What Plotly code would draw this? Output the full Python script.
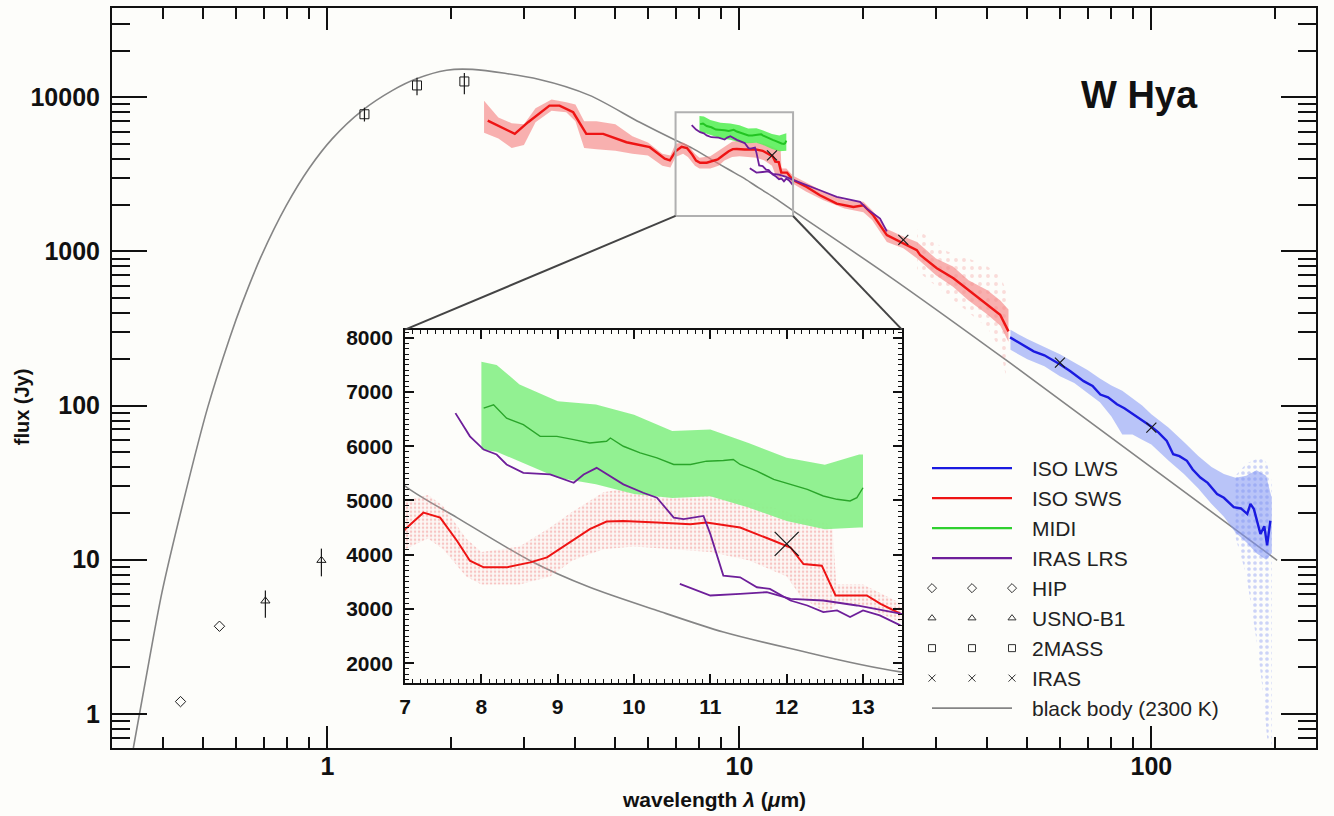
import math
import plotly.graph_objects as go

# ---------------- data ----------------
# black body (2300 K) curve, read points
BB_LAM = [0.338, 0.369, 0.397, 0.449, 0.512, 0.58, 0.621, 0.69, 0.795, 0.904, 1.028, 1.21, 1.439,
          1.645, 1.946, 2.25, 3.27, 4.33, 5.73, 7.0, 7.68, 8.64, 9.42, 10.30, 11.17, 12.05, 13.49,
          22.8, 45.4, 202]
BB_F = [0.60, 2.2, 6.2, 25, 97, 278, 462, 925, 1990, 3480, 5400, 8150, 11100,
        13200, 15000, 15180, 13060, 10300, 6890, 5266, 4685, 3890, 3400, 2972, 2574, 2270, 1840,
        708, 189, 9.9]

# ISO SWS (mean spectrum)
SWS_LAM = [2.45, 2.85, 3.07, 3.46, 3.66, 3.95, 4.25, 4.67, 5.32, 6.06, 6.59, 6.78,
           7.0, 7.24, 7.46, 7.68, 7.85, 8.03, 8.33, 8.64, 8.86, 9.12, 9.42, 9.64, 9.86,
           10.30, 10.74, 10.95, 11.39, 11.83, 12.05, 12.22, 12.46, 12.64, 13.05, 13.23, 13.49,
           14.57, 15.69, 17.23, 18.91, 20.0, 21.13, 22.8, 24.55, 26.96, 27.46, 30.15, 33.08,
           36.31, 39.86, 42.95, 45.0]
SWS_F = [7070, 5795, 6900, 8840, 8840, 8000, 5795, 5795, 5115, 4750, 3995, 3900,
         4471, 4776, 4685, 4257, 3890, 3767, 3767, 3859, 3950, 4196, 4471, 4611, 4624,
         4593, 4563, 4593, 4501, 4257, 4134, 3829, 3798, 3248, 3248, 3095, 2912,
         2620, 2316, 2044, 1946, 1995, 1719, 1277, 1156, 1021, 948, 778, 670,
         549, 451, 388, 303]
# ISO SWS spread of individual points (dense part)
SWSB_LAM = [2.40, 2.6, 2.8, 3.0, 3.2, 3.5, 3.8, 4.0, 4.2, 4.5, 5.0, 5.5, 6.0, 6.5, 6.8,
            7.0, 7.3, 7.5, 7.8, 8.0, 8.5, 8.9, 9.2, 9.6, 10.0, 10.5, 11.0, 11.5, 12.0, 12.2,
            12.5, 12.6, 12.65, 13.0, 13.5, 14.5, 16, 18, 20, 21, 22.8, 25, 27, 30, 33, 36,
            40, 43, 45]
SWSB_LO = [5900, 5400, 4700, 4900, 6900, 8200, 8000, 7000, 4700, 4600, 4500, 4300, 4200, 3600, 3500,
           4100, 4300, 4100, 3600, 3450, 3450, 3600, 3900, 4100, 4150, 4100, 4050, 3900, 3600, 3200,
           2950, 3000, 3100, 3050, 2750, 2450, 2150, 1900, 1800, 1600, 1150, 1050, 900, 700, 590, 480,
           390, 330, 260]
SWSB_HI = [9500, 7400, 6800, 6700, 8500, 9700, 9300, 9000, 7000, 7000, 6700, 5600, 5100, 4300, 4200,
           5000, 5100, 4900, 4300, 4050, 4150, 4500, 4800, 5150, 5250, 5100, 5100, 5000, 4800, 4700,
           4600, 4500, 3450, 3450, 3100, 2800, 2450, 2150, 2100, 1850, 1400, 1250, 1150, 900, 800, 650,
           560, 480, 420]
# ISO SWS sparse outliers
SWSS_LAM = [27, 32, 36, 40, 43, 45]
SWSS_LO = [750, 520, 400, 320, 230, 130]
SWSS_HI = [1400, 1000, 900, 800, 700, 500]

# ISO LWS
LWS_LAM = [45.4, 48.5, 51.8, 55.0, 60.1, 63.6, 68.5, 72.0, 75.2, 78.5, 82.5, 86.0, 90.6, 95.0,
           99.5, 104, 109, 113, 117, 122, 126, 131.5, 137, 144.4, 150, 158.5, 165, 170.9, 174,
           177.4, 181, 184, 188, 191, 194.5]
LWS_F = [277, 250, 225, 212, 185, 167, 144, 134, 118, 113, 102, 96, 87.7, 80,
         73.8, 67, 59, 48.4, 47, 43.8, 38.5, 34.1, 31.5, 26.7, 25.2, 21.9, 21.5, 19.8, 23,
         21.3, 17.5, 14.7, 16.5, 12.4, 17.9]
LWSB_LAM = [45.5, 50, 55, 60, 65, 70, 75, 80, 85, 90, 95, 100, 110, 120, 130, 140, 150, 160,
            170, 180, 190, 196]
LWSB_LO = [230, 200, 180, 155, 140, 120, 105, 85, 65, 65, 60, 56, 44, 36, 29, 23, 19, 15,
           13, 11, 10, 11]
LWSB_HI = [310, 270, 240, 215, 190, 170, 150, 135, 125, 112, 100, 88, 72, 58, 47, 40, 36, 34,
           35, 38, 35, 25]
LWSS_LAM = [160, 170, 180, 186, 191, 196]
LWSS_LO = [14, 8, 3, 1.5, 0.7, 0.6]
LWSS_HI = [35, 42, 45, 46, 42, 32]

# MIDI
MIDI_LAM = [8.03, 8.16, 8.33, 8.55, 8.77, 8.99, 9.21, 9.42, 9.64, 9.69, 9.86, 10.08, 10.30,
            10.52, 10.74, 10.95, 11.17, 11.30, 11.39, 11.61, 11.83, 12.05, 12.27, 12.48,
            12.66, 12.83, 12.92, 13.0]
MIDI_F = [6703, 6765, 6519, 6398, 6183, 6183, 6123, 6061, 6092, 6152, 6000, 5877, 5785,
          5664, 5664, 5725, 5737, 5756, 5664, 5541, 5389, 5297, 5205, 5083,
          5022, 4991, 5052, 5235]
MIDIB_LAM = [8.0, 8.2, 8.5, 9.0, 9.5, 10.0, 10.5, 11.0, 11.5, 12.0, 12.5, 12.95, 13.0]
MIDIB_LO = [5940, 5900, 5725, 5420, 5300, 5120, 5045, 5080, 4870, 4620, 4470, 4500, 4500]
MIDIB_HI = [7560, 7500, 7140, 6830, 6770, 6580, 6280, 6310, 6060, 5790, 5660, 5850, 5850]

# IRAS LRS (blue and red part)
LRS1_LAM = [7.66, 7.85, 8.03, 8.20, 8.33, 8.55, 8.90, 9.21, 9.34, 9.51, 9.86, 10.12, 10.30,
            10.52, 10.65, 10.91, 11.0, 11.17, 11.39, 11.61, 11.78, 12.05, 12.27, 12.48, 12.66,
            12.83, 13.0, 13.22, 13.49]
LRS1_F = [6611, 6183, 5939, 5848, 5664, 5511, 5480, 5327, 5480, 5602, 5297, 5143, 5052,
          4685, 4655, 4716, 4380, 3615, 3584, 3400, 3370, 3156, 3064, 2941, 2972,
          2850, 2972, 2881, 2697]
LRS2_LAM = [10.60, 11.0, 11.39, 11.74, 12.05, 12.48, 12.92, 13.49, 15.69, 17.23, 19.63,
            20.38, 21.95, 22.8]
LRS2_F = [3462, 3248, 3279, 3309, 3187, 3156, 3064, 2912, 2496, 2260, 2096,
          1897, 1636, 1349]

# photometry
HIP_LAM = [0.44, 0.547]
HIP_F = [1.2, 3.7]
USNO_LAM = [0.707, 0.967]
USNO_F = [5.4, 9.9]
USNO_EP = [0.9, 1.9]
USNO_EM = [1.2, 2.1]
TWOMASS_LAM = [1.23, 1.65, 2.15]
TWOMASS_F = [7770, 11950, 12680]
TWOMASS_EP = [800, 1450, 1700]
TWOMASS_EM = [800, 1650, 2200]
IRAS_LAM = [12, 25, 60, 100]
IRAS_F = [4200, 1190, 190, 72]

LEG_LABELS = ["ISO LWS", "ISO SWS", "MIDI", "IRAS LRS", "HIP", "USNO-B1", "2MASS", "IRAS",
              "black body (2300 K)"]

# ---------------- styling ----------------
RED = "#ee1414"
BLUE = "#1a1ae0"
GREEN_IN = "#2aa52a"
PURPLE = "#6e1f9a"
GRAY = "#858585"
INK = "#1a1a1a"
FONT = "Liberation Sans, Arial, Helvetica, sans-serif"
BG = "#fdfdfa"

XR = [math.log10(0.3), math.log10(251)]
YR = [math.log10(0.6), math.log10(38000)]
IN_XR = [7, 13.51]
IN_YR = [1630, 8150]
IN_XD = [0.2434, 0.6561]
IN_YD = [0.0875, 0.5653]
ZOOM_X = [7, 13.5]
ZOOM_Y = [1700, 8000]

fig = go.Figure()


def band(lam, lo, hi):
    return list(lam) + list(lam)[::-1], list(hi) + list(lo)[::-1]


def add(tr, inset=False):
    if inset:
        tr.update(xaxis="x2", yaxis="y2")
    tr.update(showlegend=False, hoverinfo="skip")
    fig.add_trace(tr)


for inset in (False, True):
    # black body
    add(go.Scatter(x=BB_LAM, y=BB_F, mode="lines",
                   line=dict(color=GRAY, width=1.6, shape="spline", smoothing=0.8)), inset)
    # SWS bands
    bx, by = band(SWSB_LAM, SWSB_LO, SWSB_HI)
    if inset:
        add(go.Scatter(x=bx, y=by, mode="lines", fill="toself", line=dict(width=0),
                       fillcolor="rgba(0,0,0,0)",
                       fillpattern=dict(shape=".", fgcolor="rgba(238,110,110,0.75)",
                                        bgcolor="rgba(250,210,210,0.12)", size=4, solidity=0.3)), inset)
    else:
        add(go.Scatter(x=bx, y=by, mode="lines", fill="toself", line=dict(width=0),
                       fillcolor="rgba(245,125,125,0.6)"), inset)
        sx, sy = band(SWSS_LAM, SWSS_LO, SWSS_HI)
        add(go.Scatter(x=sx, y=sy, mode="lines", fill="toself", line=dict(width=0),
                       fillcolor="rgba(0,0,0,0)",
                       fillpattern=dict(shape=".", fgcolor="rgba(240,130,130,0.55)",
                                        bgcolor="rgba(0,0,0,0)", size=8, solidity=0.18)), inset)
        # LWS bands
        lx, ly = band(LWSB_LAM, LWSB_LO, LWSB_HI)
        add(go.Scatter(x=lx, y=ly, mode="lines", fill="toself", line=dict(width=0),
                       fillcolor="rgba(130,150,245,0.55)"), inset)
        lsx, lsy = band(LWSS_LAM, LWSS_LO, LWSS_HI)
        add(go.Scatter(x=lsx, y=lsy, mode="lines", fill="toself", line=dict(width=0),
                       fillcolor="rgba(0,0,0,0)",
                       fillpattern=dict(shape=".", fgcolor="rgba(110,130,240,0.7)",
                                        bgcolor="rgba(0,0,0,0)", size=6, solidity=0.3)), inset)
    # MIDI band
    mx, my = band(MIDIB_LAM, MIDIB_LO, MIDIB_HI)
    add(go.Scatter(x=mx, y=my, mode="lines", fill="toself", line=dict(width=0),
                   fillcolor="rgba(140,240,140,0.95)" if inset else "rgba(90,240,90,0.9)"), inset)
    # lines
    add(go.Scatter(x=SWS_LAM, y=SWS_F, mode="lines",
                   line=dict(color=RED, width=2.0 if inset else 2.4)), inset)
    add(go.Scatter(x=MIDI_LAM, y=MIDI_F, mode="lines",
                   line=dict(color=GREEN_IN if inset else "#22c422", width=1.4 if inset else 2.0)), inset)
    add(go.Scatter(x=LRS1_LAM, y=LRS1_F, mode="lines",
                   line=dict(color=PURPLE, width=1.8)), inset)
    add(go.Scatter(x=LRS2_LAM, y=LRS2_F, mode="lines",
                   line=dict(color=PURPLE, width=1.8)), inset)
    if not inset:
        add(go.Scatter(x=LWS_LAM, y=LWS_F, mode="lines", line=dict(color=BLUE, width=2.4)), inset)
        add(go.Scatter(x=HIP_LAM, y=HIP_F, mode="markers",
                       marker=dict(symbol="diamond-open", size=8, color=INK, line=dict(width=1))), inset)
        add(go.Scatter(x=USNO_LAM, y=USNO_F, mode="markers",
                       error_y=dict(type="data", array=USNO_EP, arrayminus=USNO_EM, color=INK,
                                    thickness=1.2, width=0),
                       marker=dict(symbol="triangle-up-open", size=8, color=INK, line=dict(width=1))), inset)
        add(go.Scatter(x=TWOMASS_LAM, y=TWOMASS_F, mode="markers",
                       error_y=dict(type="data", array=TWOMASS_EP, arrayminus=TWOMASS_EM, color=INK,
                                    thickness=1.2, width=0),
                       marker=dict(symbol="square-open", size=9, color=INK, line=dict(width=1))), inset)
    add(go.Scatter(x=IRAS_LAM, y=IRAS_F, mode="markers",
                   marker=dict(symbol="x-thin-open", size=24 if inset else 10, color=INK,
                               line=dict(width=1.3 if inset else 1.2))), inset)

# ---------------- manual legend (row based, helper axes) ----------------
leg_kind = [("line", BLUE), ("line", RED), ("line", "#2fd02f"), ("line", PURPLE),
            ("marker", "diamond-open"), ("marker", "triangle-up-open"), ("marker", "square-open"),
            ("marker", "x-thin-open"), ("line", GRAY)]
for i, (lab, (kind, spec)) in enumerate(zip(LEG_LABELS, leg_kind)):
    if kind == "line":
        fig.add_trace(go.Scatter(x=[0, 1], y=[i, i], mode="lines", xaxis="x3", yaxis="y3",
                                 line=dict(color=spec, width=2.2 if spec != GRAY else 1.8),
                                 showlegend=False, hoverinfo="skip", cliponaxis=False))
    else:
        fig.add_trace(go.Scatter(x=[0, 0.5, 1], y=[i, i, i], mode="markers", xaxis="x3", yaxis="y3",
                                 marker=dict(symbol=spec, size=7, color="#333", line=dict(width=1)),
                                 showlegend=False, hoverinfo="skip", cliponaxis=False))
    fig.add_annotation(x=1.225, y=i, xref="x3", yref="y3", text=lab, showarrow=False,
                       xanchor="left", yanchor="middle", font=dict(family=FONT, size=21, color="#222"))

# ---------------- zoom rectangle and connectors ----------------
def to_paper(lam, f):
    return ((math.log10(lam) - XR[0]) / (XR[1] - XR[0]),
            (math.log10(f) - YR[0]) / (YR[1] - YR[0]))

tl = to_paper(ZOOM_X[0], ZOOM_Y[1])
bl = to_paper(ZOOM_X[0], ZOOM_Y[0])
br = to_paper(ZOOM_X[1], ZOOM_Y[0])
fig.add_shape(type="rect", xref="paper", yref="paper",
              x0=bl[0], x1=br[0], y0=bl[1], y1=tl[1],
              line=dict(color="#b0b0b0", width=2))
fig.add_shape(type="line", xref="paper", yref="paper", x0=bl[0], y0=bl[1], x1=IN_XD[0], y1=IN_YD[1],
              line=dict(color="#444", width=2))
fig.add_shape(type="line", xref="paper", yref="paper", x0=br[0], y0=br[1], x1=IN_XD[1], y1=IN_YD[1],
              line=dict(color="#444", width=2))

# ---------------- axes ----------------
tickfont_main = dict(family=FONT, size=25, color="#111", weight="bold")
tickfont_in = dict(family=FONT, size=21, color="#111", weight="bold")

x_major = [1, 10, 100]
y_major = [1, 10, 100, 1000, 10000]
x_minor = [m * 10 ** d for d in range(-1, 3) for m in range(2, 10)]
y_minor = [m * 10 ** d for d in range(-1, 5) for m in range(2, 10)]

fig.update_layout(
    width=1334, height=816,
    margin=dict(l=112, r=18, t=5, b=68),
    paper_bgcolor=BG, plot_bgcolor="rgba(0,0,0,0)",
    showlegend=False,
    xaxis=dict(type="log", range=XR, domain=[0, 1], showgrid=False, zeroline=False,
               showline=True, linecolor="#111", linewidth=2, mirror="allticks",
               ticks="inside", ticklen=22, tickwidth=2, tickcolor="#111",
               tickmode="array", tickvals=x_major, ticktext=[str(v) for v in x_major],
               tickfont=tickfont_main, ticklabelstandoff=-5,
               minor=dict(tickmode="array", tickvals=x_minor, ticks="inside", ticklen=11,
                          tickwidth=2, tickcolor="#111", showgrid=False)),
    yaxis=dict(type="log", range=YR, domain=[0, 1], showgrid=False, zeroline=False,
               showline=True, linecolor="#111", linewidth=2, mirror="allticks",
               ticks="inside", ticklen=35, tickwidth=2, tickcolor="#111",
               tickmode="array", tickvals=y_major, ticktext=[str(v) for v in y_major],
               tickfont=tickfont_main, ticklabelstandoff=5,
               minor=dict(tickmode="array", tickvals=y_minor, ticks="inside", ticklen=18,
                          tickwidth=2, tickcolor="#111", showgrid=False)),
    xaxis2=dict(range=IN_XR, domain=IN_XD, anchor="y2", showgrid=False, zeroline=False,
                showline=True, linecolor="#111", linewidth=2, mirror="allticks",
                ticks="inside", ticklen=9, tickwidth=1.5, tickcolor="#111",
                tick0=7, dtick=1, tickfont=tickfont_in, ticklabelstandoff=4,
                minor=dict(dtick=0.1, tick0=7, ticks="inside", ticklen=4, tickwidth=1,
                           tickcolor="#111", showgrid=False)),
    yaxis2=dict(range=IN_YR, domain=IN_YD, anchor="x2", showgrid=False, zeroline=False,
                showline=True, linecolor="#111", linewidth=2, mirror="allticks",
                ticks="inside", ticklen=9, tickwidth=1.5, tickcolor="#111",
                tick0=0, dtick=1000, tickfont=tickfont_in, ticklabelstandoff=6,
                minor=dict(dtick=100, tick0=0, ticks="inside", ticklen=4, tickwidth=1,
                           tickcolor="#111", showgrid=False)),
    xaxis3=dict(range=[-0.1, 3.975], domain=[(924 - 112) / 1204, (1250 - 112) / 1204],
                anchor="y3", visible=False, fixedrange=True),
    yaxis3=dict(range=[8.5, -0.5], domain=[(748 - 723) / 743, (748 - 452) / 743],
                anchor="x3", visible=False, fixedrange=True),
)

fig.add_annotation(x=0.5, y=-0.070, xref="paper", yref="paper", showarrow=False,
                   text="wavelength <i>λ</i> (<i>μ</i>m)", yanchor="middle",
                   font=dict(family=FONT, size=21, color="#111", weight="bold"))
fig.add_annotation(x=-0.0748, y=0.4617, xref="paper", yref="paper", showarrow=False,
                   text="flux (Jy)", textangle=-90, xanchor="center", yanchor="middle",
                   font=dict(family=FONT, size=20, color="#111", weight="bold"))
fig.add_annotation(x=0.853, y=0.883, xref="paper", yref="paper", showarrow=False,
                   text="W Hya", xanchor="center", yanchor="middle",
                   font=dict(family=FONT, size=38, color="#111", weight="bold"))

fig.write_html("out.html")
